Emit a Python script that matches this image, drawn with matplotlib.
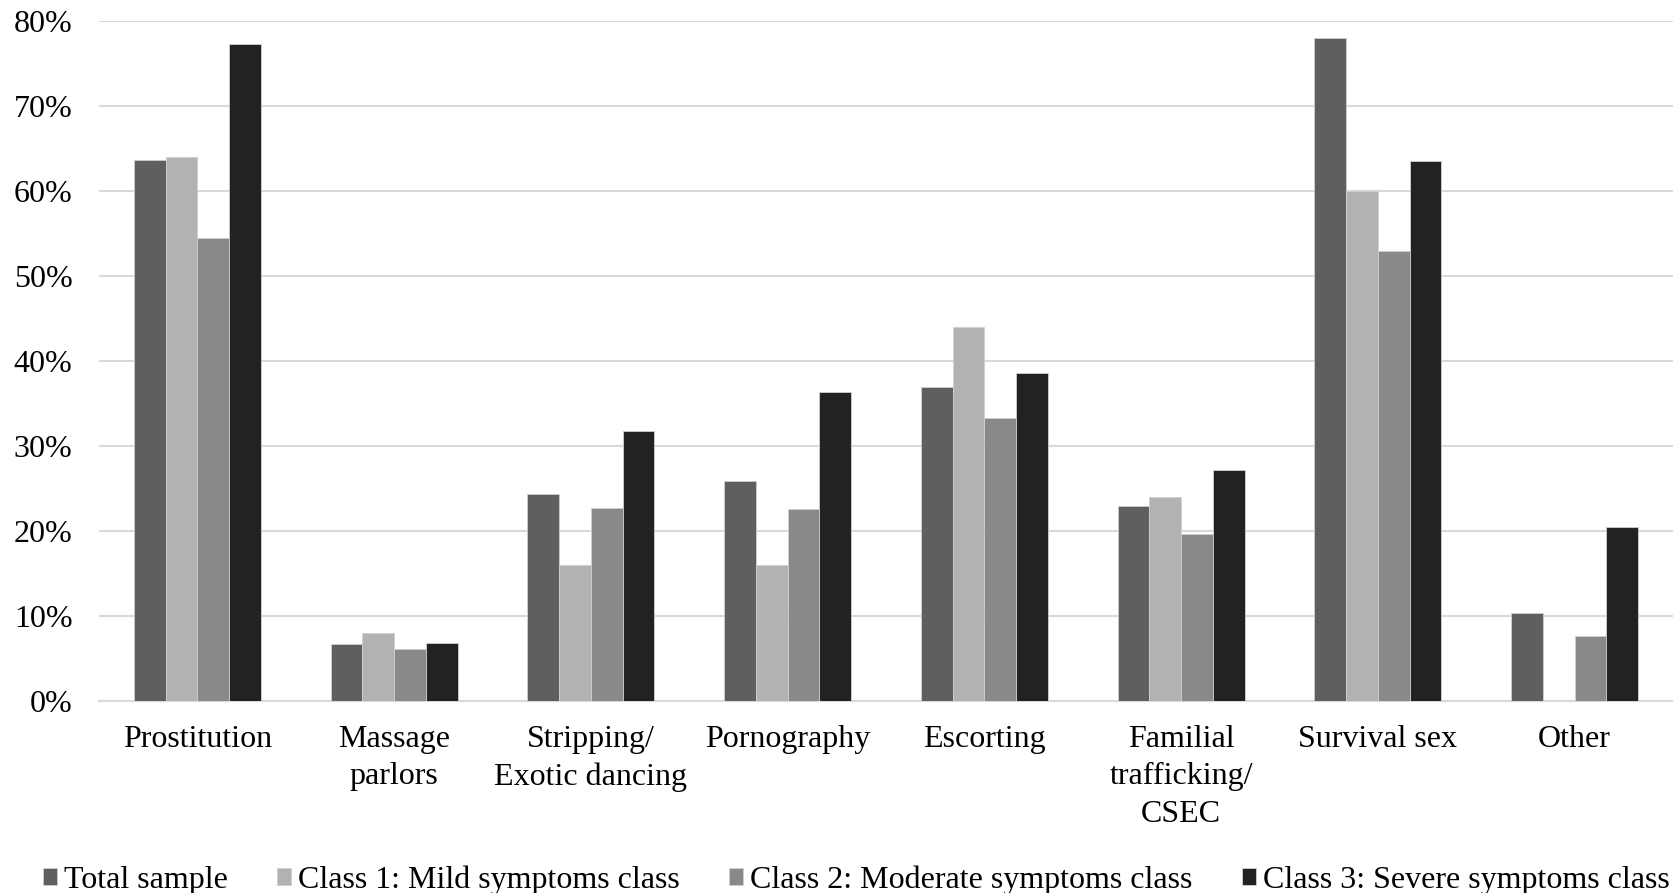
import numpy as np
import matplotlib
matplotlib.use("Agg")
import matplotlib.pyplot as plt
from matplotlib.ticker import PercentFormatter

categories = ["Prostitution", "Massage\nparlors", "Stripping/\nExotic dancing", "Pornography",
              "Escorting", "Familial\ntrafficking/\nCSEC", "Survival sex", "Other"]
series_names = ["Total sample", "Class 1: Mild symptoms class",
                "Class 2: Moderate symptoms class", "Class 3: Severe symptoms class"]
total_sample = [63.7, 6.7, 24.4, 25.9, 37.0, 22.9, 78.0, 10.4]
class1_mild = [64.0, 8.0, 16.0, 16.0, 44.0, 24.0, 60.0, 0.0]
class2_moderate = [54.5, 6.1, 22.7, 22.6, 33.3, 19.7, 53.0, 7.6]
class3_severe = [77.3, 6.8, 31.8, 36.4, 38.6, 27.2, 63.6, 20.5]
colors = ["#5f5f5f", "#b2b2b2", "#898989", "#222222"]

plt.rcParams['font.family'] = ['Liberation Serif', 'DejaVu Serif']

fig = plt.figure(figsize=(16.73, 8.93), dpi=100)
ax = fig.add_axes([99 / 1673, 1 - 701 / 893, 1 - 99 / 1673, (701 - 21.3) / 893])

x = np.arange(len(categories))
w = 0.1615
data = [total_sample, class1_mild, class2_moderate, class3_severe]
for i, (vals, name, c) in enumerate(zip(data, series_names, colors)):
    ax.bar(x + (i - 1.5) * w, vals, width=w, color=c, label=name,
           edgecolor="#d0d0d0", linewidth=0.6, zorder=3)

ax.set_xlim(-0.5, len(categories) - 0.5)
ax.set_ylim(0, 80)
ax.set_yticks(np.arange(0, 81, 10))
ax.yaxis.set_major_formatter(PercentFormatter(decimals=0))
ax.grid(axis="y", color="#d9d9d9", linewidth=1.5, zorder=0)
for s in ["top", "right", "left"]:
    ax.spines[s].set_visible(False)
ax.spines["bottom"].set_color("#d9d9d9")
ax.spines["bottom"].set_linewidth(1.5)
ax.tick_params(axis="both", length=0, labelsize=23)
ax.tick_params(axis="y", pad=19)
ax.tick_params(axis="x", pad=17)
ax.set_xticks(x)
ax.set_xticklabels(categories, linespacing=1.4)

ax.legend(loc="center", bbox_to_anchor=(0.481, -179 / 679.7),
          ncol=4, frameon=False, fontsize=23, handlelength=0.45, handleheight=0.45,
          handletextpad=0.2, columnspacing=1.55)

fig.savefig("out.png", dpi=100)
